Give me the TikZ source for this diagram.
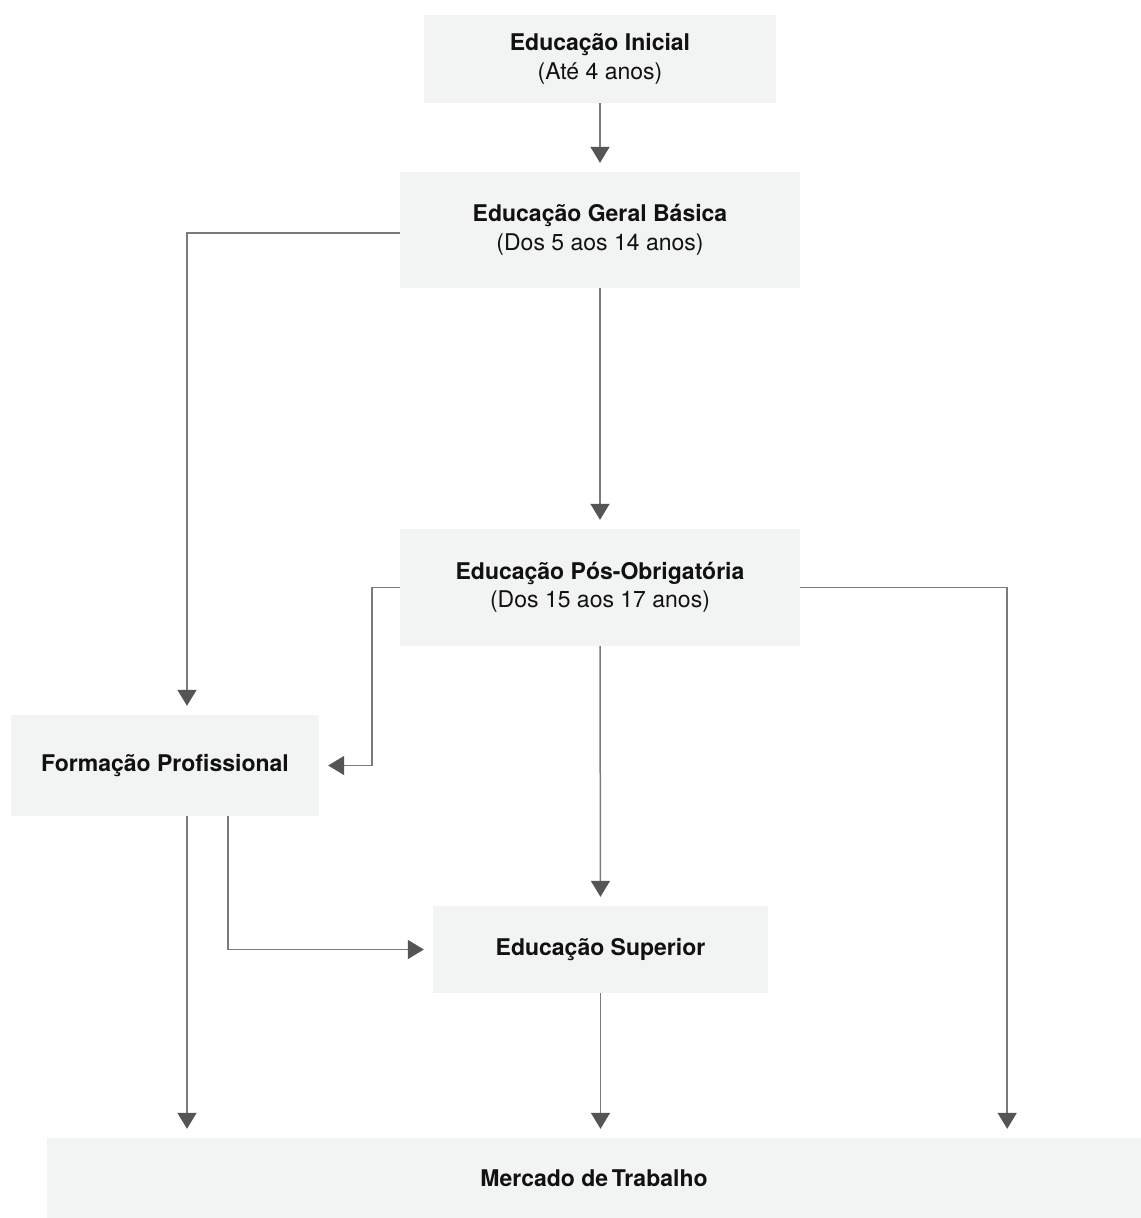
\documentclass[tikz,border=0pt]{standalone}
\usepackage{fontspec}
\setmainfont{TeX Gyre Heros}
\usetikzlibrary{arrows.meta}
\definecolor{boxfill}{HTML}{F2F3F3}
\definecolor{linegray}{HTML}{7A7A7A}
\definecolor{tipgray}{HTML}{555555}
\definecolor{txt}{HTML}{111111}
\begin{document}
\begin{tikzpicture}[x=1bp,y=-1bp,
  stage/.style={fill=boxfill,draw=none,align=center,text=txt,inner sep=0pt,
    font=\fontsize{23bp}{28.5bp}\selectfont},
  conn/.style={draw=linegray,line width=1.5bp,shorten >=9bp,
    -{Triangle[width=19bp,length=16bp,color=tipgray]}}]
\useasboundingbox (0,0) rectangle (1141,1218);
\fill[white] (0,0) rectangle (1141,1218);

% stages
\node[stage,minimum width=352bp,minimum height=88bp] (ini) at (600,59)
  {\textbf{Educação Inicial}\\(Até 4 anos)};
\node[stage,minimum width=400bp,minimum height=116bp] (geb) at (600,230)
  {\textbf{Educação Geral Básica}\\(Dos 5 aos 14 anos)};
\node[stage,minimum width=400bp,minimum height=117bp] (pos) at (600,587.5)
  {\textbf{Educação Pós-Obrigatória}\\(Dos 15 aos 17 anos)};
\node[stage,minimum width=308bp,minimum height=101bp] (fp) at (165,765.5)
  {\textbf{Formação Profissional}};
\node[stage,minimum width=335bp,minimum height=87bp] (sup) at (600.5,949.5)
  {\textbf{Educação Superior}};
\node[stage,minimum width=1094bp,minimum height=80bp] (mt) at (594,1178)
  {\textbf{Mercado de\,Trabalho}};

% branch points
\coordinate (fpa) at ([xshift=22bp]fp.south);
\coordinate (fpb) at ([xshift=63bp]fp.south);
\coordinate (gebw) at ([yshift=-3bp]geb.west);
\coordinate (pose) at ([xshift=207bp]pos.east);
\coordinate (posw) at ([xshift=-28bp]pos.west);

% connectors
\draw[conn] (ini.south) -- (geb.north);
\draw[conn] (geb.south) -- (pos.north);
\draw[conn] (pos.south) -- (sup.north);
\draw[conn] (gebw) -| (fpa |- fp.north);
\draw[conn] (pos.west) -- (posw) |- (fp.east);
\draw[conn] (pos.east) -- (pose) -- (pose |- mt.north);
\draw[conn] (fpa) -- (fpa |- mt.north);
\draw[conn] (fpb) |- (sup.west);
\draw[conn] (sup.south) -- (sup.south |- mt.north);
\end{tikzpicture}
\end{document}
